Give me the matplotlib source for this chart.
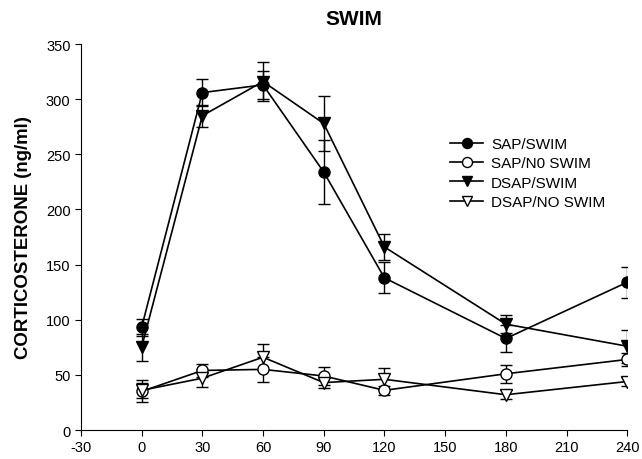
import matplotlib
matplotlib.use("Agg")
import matplotlib.pyplot as plt

plt.rcParams['font.family'] = ['Liberation Sans', 'DejaVu Sans']
plt.rcParams['axes.unicode_minus'] = False

time = [0, 30, 60, 90, 120, 180, 240]

sap_swim = [93, 306, 313, 234, 138, 83, 134]
sap_swim_err = [8, 12, 13, 29, 14, 12, 14]

sap_noswim = [35, 54, 55, 49, 36, 51, 64]
sap_noswim_err = [10, 6, 11, 8, 4, 8, 6]

dsap_swim = [75, 285, 316, 278, 166, 96, 76]
dsap_swim_err = [12, 10, 18, 25, 12, 8, 15]

dsap_noswim = [36, 47, 66, 43, 46, 32, 44]
dsap_noswim_err = [7, 8, 12, 5, 10, 4, 4]

labels = ['SAP/SWIM', 'SAP/N0 SWIM', 'DSAP/SWIM', 'DSAP/NO SWIM']
xticks = [-30, 0, 30, 60, 90, 120, 150, 180, 210, 240]
yticks = [0, 50, 100, 150, 200, 250, 300, 350]

fig = plt.figure(figsize=(6.42, 4.6), dpi=100)
ax = fig.add_axes([0.126, 0.063, 0.851, 0.839])

series = [
    (sap_swim, sap_swim_err, 'o', 'black', labels[0], 8),
    (sap_noswim, sap_noswim_err, 'o', 'white', labels[1], 8),
    (dsap_swim, dsap_swim_err, 'v', 'black', labels[2], 8),
    (dsap_noswim, dsap_noswim_err, 'v', 'white', labels[3], 8),
]
for vals, errs, mk, fc, lab, ms in series:
    ax.errorbar(time, vals, yerr=errs, marker=mk, markersize=ms,
                markerfacecolor=fc, markeredgecolor='black', color='black',
                linewidth=1.2, elinewidth=1.0, capsize=4, capthick=1.0,
                label=lab, zorder=3)

ax.set_xlim(-30, 240)
ax.set_ylim(0, 350)
ax.set_xticks(xticks)
ax.set_yticks(yticks)
ax.spines['top'].set_visible(False)
ax.spines['right'].set_visible(False)
ax.tick_params(direction='out', length=4, labelsize=10.5)
ax.set_ylabel('CORTICOSTERONE (ng/ml)', fontsize=13.4, fontweight='bold', labelpad=10)
fig.text(0.551, 0.957, 'SWIM', ha='center', va='center', fontsize=15, fontweight='bold')

handles, labs = ax.get_legend_handles_labels()
handles = [h[0] for h in handles]
ax.legend(handles, labs, loc='upper left', bbox_to_anchor=(0.65, 0.795),
          frameon=False, fontsize=11, handlelength=2.2, labelspacing=0.35,
          handletextpad=0.5, markerscale=0.9)

fig.savefig('out.png', dpi=100)
